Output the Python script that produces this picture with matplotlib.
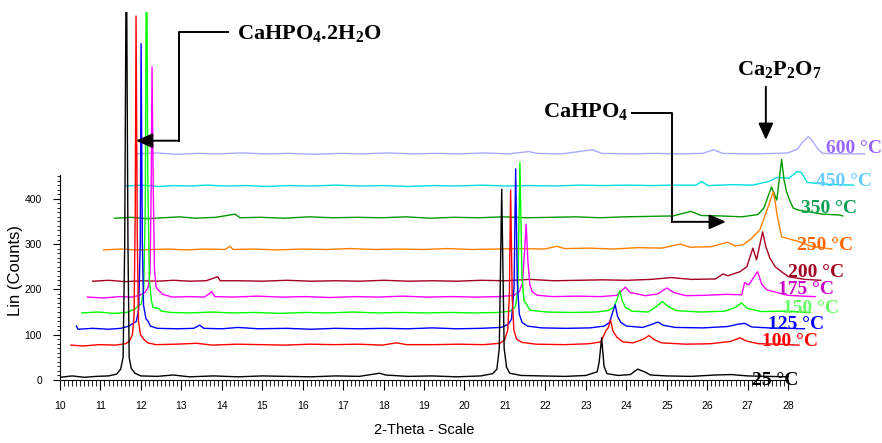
import numpy as np
import matplotlib
matplotlib.use("Agg")
import matplotlib.pyplot as plt

plt.rcParams['mathtext.fontset'] = 'custom'
plt.rcParams['mathtext.rm'] = 'Liberation Serif:bold'
plt.rcParams['mathtext.it'] = 'Liberation Serif:bold'
plt.rcParams['mathtext.bf'] = 'Liberation Serif:bold'

# XRD patterns, (2-theta, counts), before stacking
t25 = [(10.0, 6), (10.3, 9), (10.6, 6), (10.9, 8), (11.2, 9), (11.4, 13), (11.5, 24),
       (11.56, 50), (11.6, 300), (11.64, 1000), (11.68, 300), (11.71, 50), (11.76, 26),
       (11.85, 15), (12.0, 9), (12.4, 8), (12.8, 11), (13.2, 7), (13.8, 9), (14.4, 7),
       (15.0, 9), (15.6, 8), (16.2, 7), (16.8, 9), (17.4, 8), (17.9, 15), (18.05, 11),
       (18.6, 8), (19.2, 9), (19.8, 7), (20.4, 9), (20.7, 14), (20.8, 24), (20.86, 70),
       (20.92, 421), (20.98, 70), (21.04, 28), (21.12, 15), (21.4, 10), (21.9, 9),
       (22.5, 8), (23.0, 10), (23.28, 18), (23.33, 40), (23.39, 93), (23.45, 30),
       (23.52, 14), (23.8, 10), (24.1, 12), (24.28, 24), (24.45, 18), (24.6, 11),
       (25.0, 9), (25.6, 8), (26.2, 11), (26.6, 12), (27.0, 9), (27.5, 8), (28.0, 7)]
t100 = [(10.0, 7), (10.3, 5), (10.7, 8), (11.1, 7), (11.35, 10), (11.45, 16), (11.52, 30),
        (11.56, 70), (11.59, 300), (11.61, 733), (11.64, 250), (11.67, 60), (11.72, 30),
        (11.8, 20), (11.9, 12), (12.1, 8), (12.6, 9), (13.1, 11), (13.5, 7), (14.1, 9),
        (14.7, 8), (15.3, 7), (15.9, 9), (16.5, 8), (17.1, 9), (17.7, 7), (18.05, 12),
        (18.3, 8), (19.0, 8), (19.6, 9), (20.2, 8), (20.6, 11), (20.72, 18), (20.8, 40),
        (20.84, 120), (20.87, 349), (20.91, 110), (20.95, 40), (21.02, 20), (21.15, 13),
        (21.5, 9), (22.2, 8), (22.8, 10), (23.1, 14), (23.22, 38), (23.28, 45),
        (23.34, 62), (23.4, 38), (23.5, 24), (23.65, 14), (23.9, 12), (24.15, 20),
        (24.29, 28), (24.42, 19), (24.6, 12), (25.2, 9), (25.8, 10), (26.3, 15),
        (26.54, 23), (26.7, 16), (27.0, 10), (27.5, 9), (28.0, 7)]
t125 = [(10.0, 14), (10.04, 7), (10.4, 9), (10.8, 7), (11.1, 9), (11.3, 14), (11.4, 20),
        (11.48, 24), (11.54, 50), (11.58, 200), (11.6, 637), (11.63, 200), (11.66, 60),
        (11.72, 30), (11.77, 25), (11.83, 14), (12.0, 9), (12.5, 8), (12.9, 9),
        (13.05, 16), (13.15, 9), (13.6, 8), (14.0, 11), (14.5, 8), (15.2, 9), (15.8, 7),
        (16.4, 9), (17.0, 8), (17.6, 9), (18.2, 8), (18.8, 10), (19.4, 8), (20.0, 9),
        (20.5, 11), (20.68, 18), (20.76, 30), (20.82, 100), (20.86, 361), (20.9, 110),
        (20.95, 40), (21.02, 22), (21.15, 14), (21.5, 10), (22.1, 9), (22.7, 10),
        (23.05, 14), (23.18, 22), (23.26, 45), (23.32, 61), (23.38, 35), (23.46, 22),
        (23.6, 14), (24.0, 11), (24.2, 17), (24.38, 23), (24.5, 16), (24.8, 11),
        (25.5, 10), (26.1, 13), (26.35, 18), (26.52, 20), (26.7, 12), (27.1, 10),
        (27.6, 9), (28.0, 8)]
t150 = [(10.0, 8), (10.4, 10), (10.8, 7), (11.1, 9), (11.3, 16), (11.38, 22), (11.47, 28),
        (11.53, 60), (11.57, 250), (11.6, 900), (11.63, 300), (11.67, 80), (11.72, 35),
        (11.76, 20), (11.9, 18), (11.96, 12), (12.2, 9), (12.7, 8), (13.2, 10), (13.7, 8),
        (14.3, 9), (14.9, 7), (15.5, 9), (16.1, 8), (16.7, 10), (17.3, 8), (17.9, 9),
        (18.5, 8), (19.1, 9), (19.7, 8), (20.3, 9), (20.6, 12), (20.72, 22), (20.78, 60),
        (20.83, 340), (20.88, 90), (20.93, 35), (21.0, 26), (21.08, 14), (21.5, 10),
        (22.1, 9), (22.7, 10), (23.0, 13), (23.15, 20), (23.24, 40), (23.3, 57),
        (23.36, 35), (23.44, 20), (23.6, 12), (24.0, 10), (24.2, 22), (24.35, 33),
        (24.5, 22), (24.7, 13), (25.3, 10), (25.9, 12), (26.15, 20), (26.31, 30),
        (26.45, 18), (26.8, 11), (27.4, 12), (28.0, 9)]
t175 = [(10.0, 8), (10.4, 6), (10.8, 9), (11.1, 8), (11.3, 12), (11.42, 18), (11.5, 28),
        (11.55, 60), (11.58, 250), (11.6, 516), (11.63, 250), (11.66, 70), (11.7, 30),
        (11.77, 22), (11.8, 20), (11.86, 14), (12.1, 8), (12.5, 9), (12.9, 8),
        (13.08, 20), (13.15, 9), (13.6, 8), (14.2, 10), (14.8, 8), (15.4, 9), (16.0, 7),
        (16.6, 9), (17.2, 8), (17.8, 10), (18.4, 8), (19.0, 9), (19.6, 8), (20.2, 9),
        (20.55, 12), (20.68, 20), (20.76, 40), (20.81, 110), (20.85, 169), (20.89, 90),
        (20.94, 35), (21.0, 20), (21.12, 12), (21.5, 9), (22.1, 10), (22.7, 9),
        (23.1, 12), (23.3, 30), (23.42, 18), (23.8, 11), (24.1, 15), (24.33, 28),
        (24.5, 18), (24.8, 11), (25.3, 12), (25.8, 14), (26.18, 13), (26.25, 40),
        (26.35, 35), (26.45, 48), (26.57, 64), (26.68, 35), (26.8, 24), (26.97, 20),
        (27.3, 12), (27.7, 10), (28.0, 9)]
t200 = [(10.0, 8), (10.4, 10), (10.8, 7), (11.2, 9), (11.6, 8), (12.0, 10), (12.4, 8),
        (12.8, 9), (13.09, 18), (13.15, 9), (13.6, 9), (14.2, 8), (14.8, 10), (15.4, 8),
        (16.0, 9), (16.6, 8), (17.2, 10), (17.8, 8), (18.4, 9), (19.0, 8), (19.6, 10),
        (20.2, 9), (20.8, 12), (21.4, 9), (22.0, 10), (22.6, 11), (23.2, 10), (23.8, 12),
        (24.3, 16), (24.8, 12), (25.4, 13), (25.58, 24), (25.7, 20), (26.0, 29),
        (26.17, 40), (26.32, 81), (26.41, 55), (26.56, 117), (26.64, 84), (26.74, 59),
        (26.87, 40), (27.07, 26), (27.2, 18), (27.6, 12), (28.0, 10)]
t250 = [(10.0, 7), (10.4, 9), (10.8, 7), (11.2, 8), (11.6, 9), (12.0, 7), (12.5, 9),
        (13.0, 8), (13.12, 15), (13.2, 8), (13.7, 9), (14.3, 7), (14.9, 9), (15.5, 8),
        (16.1, 10), (16.7, 8), (17.3, 9), (17.9, 8), (18.5, 10), (19.1, 8), (19.7, 9),
        (20.3, 10), (20.9, 9), (21.2, 15), (21.4, 10), (22.0, 11), (22.6, 9), (23.2, 12),
        (23.8, 11), (24.25, 20), (24.5, 13), (25.0, 14), (25.43, 24), (25.6, 16),
        (25.8, 18), (26.0, 31), (26.22, 51), (26.31, 73), (26.43, 103), (26.55, 135),
        (26.6, 114), (26.64, 88), (26.76, 36), (26.88, 33), (27.2, 25), (27.5, 15),
        (28.0, 9)]
t350 = [(10.0, 7), (10.4, 9), (10.8, 6), (11.2, 8), (11.6, 10), (12.0, 7), (12.5, 9),
        (12.98, 16), (13.1, 8), (13.6, 9), (14.2, 7), (14.8, 10), (15.4, 8), (16.0, 9),
        (16.6, 8), (17.2, 10), (17.8, 7), (18.4, 9), (19.0, 8), (19.6, 10), (20.2, 8),
        (20.8, 9), (21.4, 10), (22.0, 8), (22.6, 10), (23.2, 11), (23.8, 12),
        (24.25, 22), (24.5, 13), (25.0, 12), (25.5, 10), (25.9, 15), (26.05, 29),
        (26.24, 76), (26.37, 47), (26.49, 137), (26.55, 91), (26.61, 66), (26.7, 44),
        (26.78, 29), (26.9, 25), (27.11, 22), (27.5, 16), (27.93, 14), (28.0, 12)]
t450 = [(10.0, 8), (10.4, 10), (10.8, 7), (11.2, 9), (11.6, 8), (12.0, 10), (12.5, 8),
        (13.0, 9), (13.5, 7), (14.0, 9), (14.6, 8), (15.2, 10), (15.8, 8), (16.4, 9),
        (17.0, 7), (17.6, 9), (18.2, 8), (18.8, 10), (19.4, 8), (20.0, 9), (20.6, 8),
        (21.2, 10), (21.8, 9), (22.4, 10), (23.0, 9), (23.6, 10), (24.1, 10),
        (24.24, 18), (24.4, 9), (25.0, 11), (25.5, 10), (25.9, 18), (26.1, 27),
        (26.4, 25), (26.6, 40), (26.71, 38), (26.85, 16), (27.3, 12), (28.0, 10)]
t600 = [(10.0, 9), (10.5, 11), (11.0, 8), (11.5, 10), (12.0, 9), (12.6, 11), (13.2, 9),
        (13.8, 10), (14.4, 8), (15.0, 10), (15.6, 9), (16.2, 11), (16.8, 9), (17.4, 10),
        (18.0, 9), (18.6, 11), (19.2, 9), (19.7, 14), (19.9, 10), (20.5, 9), (21.28, 18),
        (21.5, 10), (22.2, 9), (22.8, 10), (23.4, 9), (24.0, 10), (24.26, 18),
        (24.5, 10), (25.2, 9), (25.8, 10), (26.1, 11), (26.35, 20), (26.44, 32),
        (26.61, 47), (26.69, 40), (26.86, 18), (26.97, 10), (27.5, 9), (28.0, 9)]

patterns = [t25, t100, t125, t150, t175, t200, t250, t350, t450, t600]
temps = ["25 °C", "100 °C", "125 °C", "150 °C", "175 °C",
         "200 °C", "250 °C", "350 °C", "450 °C", "600 °C"]
# waterfall shift of each pattern (2-theta, counts)
shift_x = [0, 0.27, 0.405, 0.54, 0.675, 0.81, 1.08, 1.35, 1.62, 1.89]
shift_y = [0, 70, 105, 140, 175, 210, 280, 350, 420, 490]

line_colors = ['#000000', '#ff0000', '#0000ff', '#00ff00', '#ff00ff',
               '#a50021', '#ff8000', '#009a00', '#00dede', '#aaaaff']
label_colors = ['#000000', '#ff0000', '#0000ff', '#66ff66', '#cc00cc',
                '#a50021', '#ff6600', '#00a050', '#66ccff', '#9966ff']
label_xy = [(27.11, -11), (27.35, 75), (27.51, 113), (27.87, 148), (27.75, 190),
            (28.0, 227), (28.21, 287), (28.33, 369), (28.69, 427), (28.94, 501)]

fig = plt.figure(figsize=(8.82, 4.43), dpi=100)
ax = fig.add_axes([60 / 882, 63 / 443, 822 / 882, 368 / 443])
ax.set_xlim(10, 10 + 822 / 40.45)
ax.set_ylim(0, 812)

# back patterns first so the lower ones sit on top
for i in reversed(range(len(patterns))):
    tt = np.array([p[0] for p in patterns[i]]) + shift_x[i]
    cc = np.array([p[1] for p in patterns[i]]) + shift_y[i]
    ax.plot(tt, cc, color=line_colors[i], lw=1.0)

serif = 'Liberation Serif'
for i in range(len(temps)):
    ax.text(label_xy[i][0], label_xy[i][1], temps[i], color=label_colors[i],
            family=serif, fontweight='bold', fontsize=14, va='baseline')

# phase markers
k = dict(color='black', lw=1.4)
head = dict(arrowstyle='-|>,head_length=1.0,head_width=0.45', color='black',
            lw=1.4, mutation_scale=10, shrinkA=0, shrinkB=0)
ax.plot([14.15, 12.94, 12.94], [768, 768, 528], **k)
ax.annotate('', xy=(11.88, 528), xytext=(12.94, 528), arrowprops=head)
ax.text(14.38, 753, r'CaHPO$_4$.2H$_2$O', family=serif, fontweight='bold',
        fontsize=16, va='baseline')

ax.plot([24.14, 25.13, 25.13], [590, 590, 349], **k)
ax.annotate('', xy=(26.46, 349), xytext=(25.13, 349), arrowprops=head)
ax.text(21.94, 581, r'CaHPO$_4$', family=serif, fontweight='bold',
        fontsize=16, va='baseline')

ax.annotate('', xy=(27.45, 530), xytext=(27.45, 647), arrowprops=head)
ax.text(26.74, 673, r'Ca$_2$P$_2$O$_7$', family=serif, fontweight='bold',
        fontsize=16, va='baseline')

# axes
for s in ['top', 'right']:
    ax.spines[s].set_visible(False)
ax.spines['bottom'].set_bounds(10, 28)
ax.spines['left'].set_bounds(0, 452)
ax.set_xticks(range(10, 29))
ax.set_xticks(np.arange(10, 28.01, 0.1), minor=True)
ax.set_yticks([0, 100, 200, 300, 400])
ax.set_yticks(np.arange(0, 451, 10), minor=True)
ax.tick_params(axis='x', which='major', length=7, width=0.8, pad=8, labelsize=7.5)
ax.tick_params(axis='x', which='minor', length=4, width=0.6)
ax.tick_params(axis='y', which='major', length=5, width=0.8, pad=8, labelsize=7.5)
ax.tick_params(axis='y', which='minor', length=2.5, width=0.6)
for lab in ax.get_xticklabels() + ax.get_yticklabels():
    lab.set_family('Liberation Sans')

fig.text(16 / 882, 1 - 270 / 443, 'Lin (Counts)', rotation=90, ha='center',
         va='center', family='Liberation Sans', fontsize=12)
fig.text(424 / 882, 1 - 430 / 443, '2-Theta - Scale', ha='center', va='center',
         family='Liberation Sans', fontsize=10.5)

fig.savefig('out.png', dpi=100)
